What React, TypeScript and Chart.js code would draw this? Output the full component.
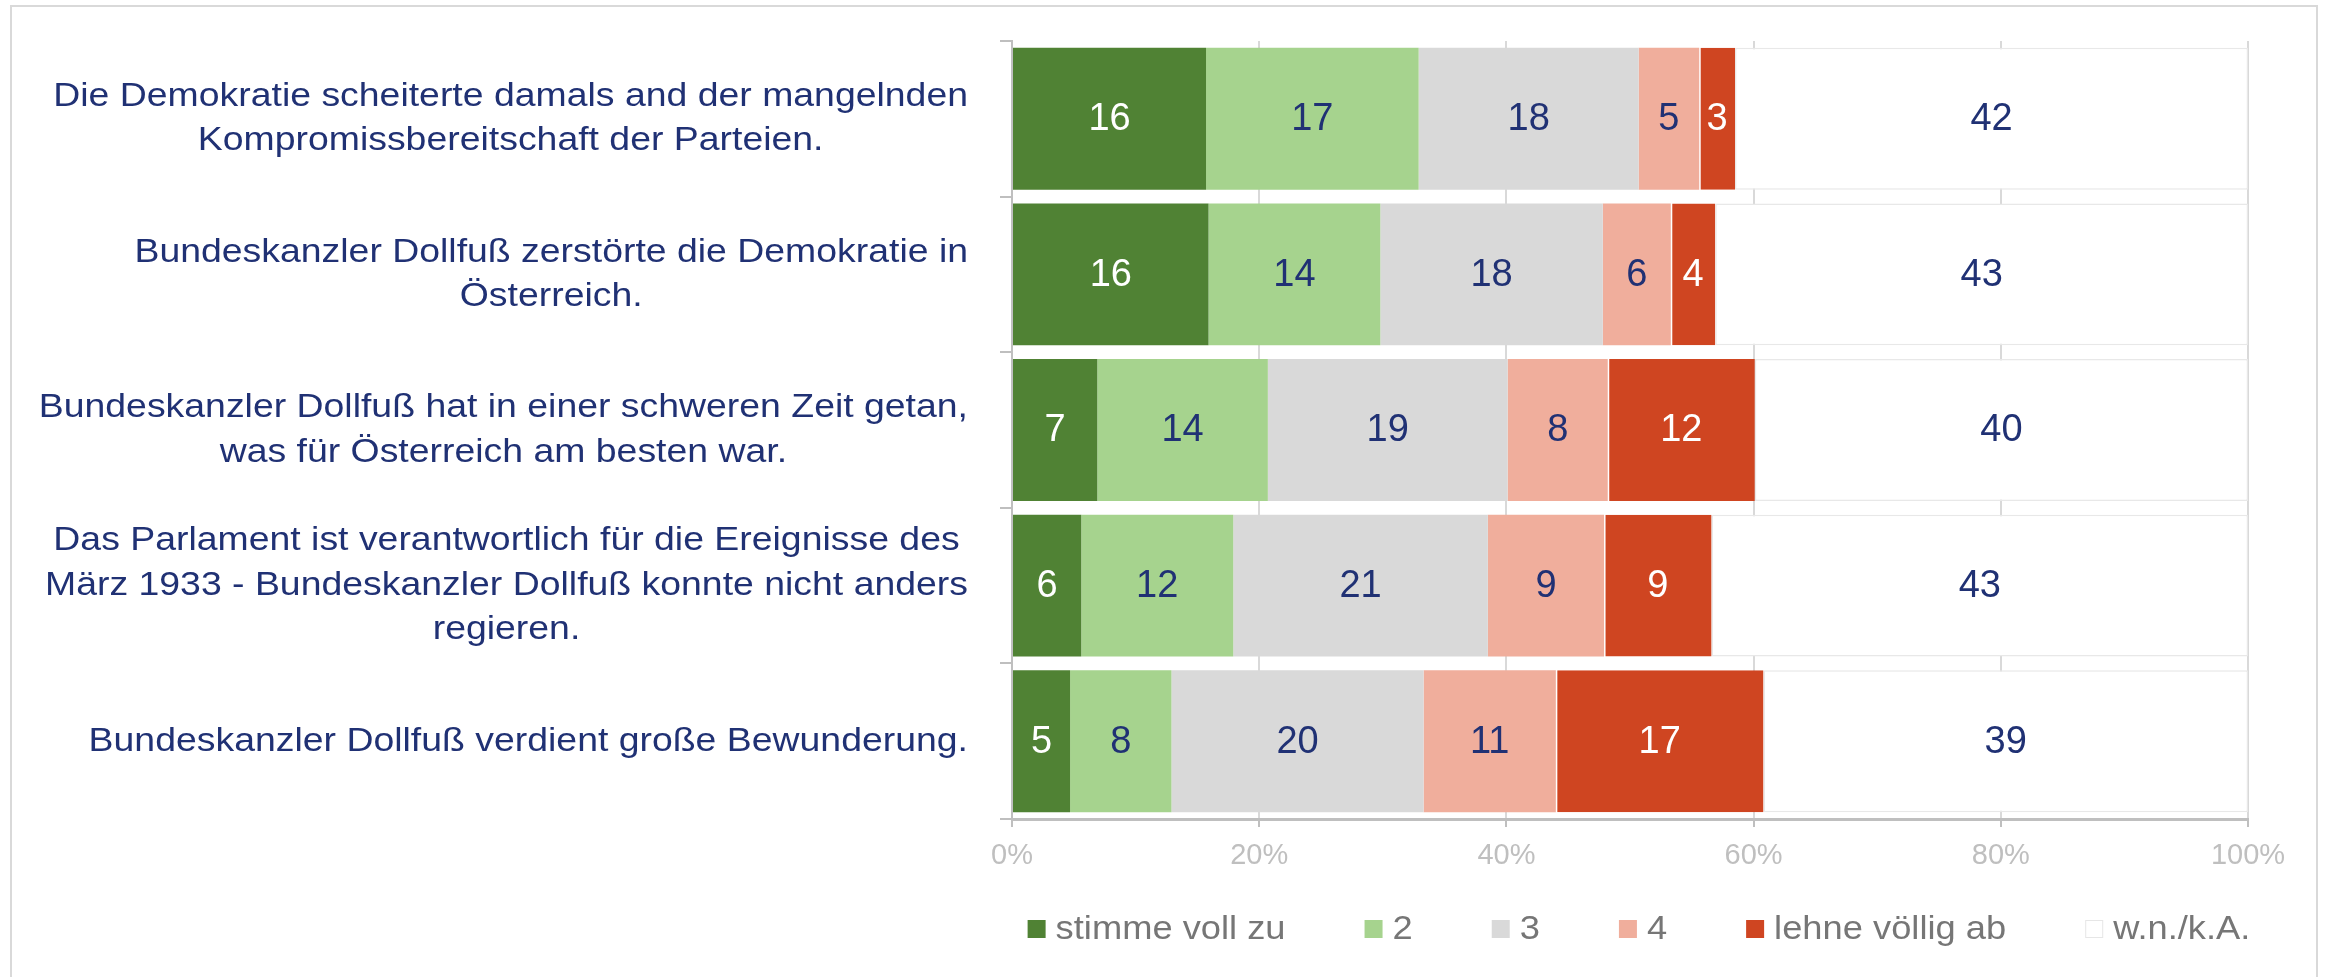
import React, { useEffect, useRef } from "react";
import { Chart, registerables } from "chart.js";

Chart.register(...registerables);

// ---------- data ----------
const categories: string[][] = [
  ["Die Demokratie scheiterte damals and der mangelnden", "Kompromissbereitschaft der Parteien."],
  ["Bundeskanzler Dollfuß zerstörte die Demokratie in", "Österreich."],
  ["Bundeskanzler Dollfuß hat in einer schweren Zeit getan,", "was für Österreich am besten war."],
  ["Das Parlament ist verantwortlich für die Ereignisse des", "März 1933 - Bundeskanzler Dollfuß konnte nicht anders", "regieren."],
  ["Bundeskanzler Dollfuß verdient große Bewunderung."],
];

const seriesLabels = ["stimme voll zu", "2", "3", "4", "lehne völlig ab", "w.n./k.A."];

const stimmeVollZu = [15.7, 15.9, 6.9, 5.6, 4.7];
const zwei = [17.2, 13.9, 13.8, 12.3, 8.2];
const drei = [17.8, 18.0, 19.4, 20.6, 20.4];
const vier = [4.9, 5.5, 8.1, 9.4, 10.7];
const lehneVoelligAb = [2.9, 3.6, 11.9, 8.7, 16.8];
const wnka = [41.5, 43.1, 39.9, 43.4, 39.2];

const xTickValues = [0, 20, 40, 60, 80, 100];

// ---------- styles ----------
const FONT = "'Liberation Sans', Arial, sans-serif";
const NAVY = "#203174";
const fillColors = ["#508234", "#A6D38E", "#D9D9D9", "#F0AE9C", "#CF4521", "#FFFFFF"];
const valueColors = ["#FFFFFF", NAVY, NAVY, NAVY, "#FFFFFF", NAVY];

const W = 2326;
const H = 977;

const framePlugin = {
  id: "frame",
  beforeDraw(chart: any) {
    const ctx = chart.ctx;
    ctx.save();
    ctx.fillStyle = "#FFFFFF";
    ctx.fillRect(0, 0, chart.width, chart.height);
    ctx.strokeStyle = "#D9D9D9";
    ctx.lineWidth = 2;
    ctx.strokeRect(11, 6, 2306, chart.height + 20);
    ctx.restore();
  },
};

const valueLabelPlugin = {
  id: "valueLabels",
  afterDatasetsDraw(chart: any) {
    const ctx = chart.ctx;
    ctx.save();
    ctx.font = `38px ${FONT}`;
    ctx.textAlign = "center";
    ctx.textBaseline = "middle";
    chart.data.datasets.forEach((ds: any, di: number) => {
      const meta = chart.getDatasetMeta(di);
      meta.data.forEach((bar: any, i: number) => {
        const v = ds.data[i];
        const p = bar.getProps(["x", "y", "base"], true);
        const right = Math.min(p.x, chart.chartArea.right);
        const cx = (right + p.base) / 2;
        ctx.fillStyle = valueColors[di];
        ctx.fillText(String(Math.round(v)), cx, p.y + 1);
      });
    });
    ctx.restore();
  },
};

const categoryLabelPlugin = {
  id: "categoryLabels",
  afterDraw(chart: any) {
    const ctx = chart.ctx;
    const yScale = chart.scales.y;
    const stretch = 1.1;
    const lineH = 44.5;
    const rightEdge = chart.chartArea.left - 44;
    ctx.save();
    ctx.font = `34px ${FONT}`;
    ctx.fillStyle = NAVY;
    ctx.textAlign = "center";
    ctx.textBaseline = "middle";
    categories.forEach((lines, i) => {
      const cy = yScale.getPixelForValue(i);
      const maxW = Math.max(...lines.map((l) => ctx.measureText(l).width)) * stretch;
      const cx = rightEdge - maxW / 2;
      lines.forEach((l, j) => {
        const ly = cy + (j - (lines.length - 1) / 2) * lineH;
        ctx.save();
        ctx.translate(cx, ly);
        ctx.scale(stretch, 1);
        ctx.fillText(l, 0, 0);
        ctx.restore();
      });
    });
    ctx.restore();
  },
};

const legendPlugin = {
  id: "customLegend",
  afterDraw(chart: any) {
    const ctx = chart.ctx;
    const stretch = 1.1;
    const box = 18;
    const boxGap = 10;
    const itemGap = 79;
    const cy = 929;
    ctx.save();
    ctx.font = `33px ${FONT}`;
    ctx.textBaseline = "middle";
    ctx.textAlign = "left";
    const items = chart.data.datasets.map((ds: any) => ({
      text: ds.label,
      color: ds.backgroundColor,
      w: ctx.measureText(ds.label).width * stretch,
    }));
    const total =
      items.reduce((s: number, it: any) => s + box + boxGap + it.w, 0) + itemGap * (items.length - 1);
    const center = (chart.chartArea.left + chart.chartArea.right) / 2 + 9;
    let x = center - total / 2;
    items.forEach((it: any) => {
      ctx.fillStyle = it.color;
      ctx.fillRect(x, cy - box / 2, box, box);
      if (it.color === "#FFFFFF") {
        ctx.strokeStyle = "#E6E6E6";
        ctx.lineWidth = 1;
        ctx.strokeRect(x + 0.5, cy - box / 2 + 0.5, box - 1, box - 1);
      }
      ctx.fillStyle = "#767676";
      ctx.save();
      ctx.translate(x + box + boxGap, cy + 1);
      ctx.scale(stretch, 1);
      ctx.fillText(it.text, 0, 0);
      ctx.restore();
      x += box + boxGap + it.w + itemGap;
    });
    ctx.restore();
  },
};

export default function App() {
  const canvasRef = useRef<HTMLCanvasElement | null>(null);

  useEffect(() => {
    const canvas = canvasRef.current;
    if (!canvas) return;
    const seriesData = [stimmeVollZu, zwei, drei, vier, lehneVoelligAb, wnka];
    const datasets = seriesData.map((data, i) => {
      const isWhite = i === 5;
      const isRed = i === 4;
      return {
        label: seriesLabels[i],
        data,
        backgroundColor: fillColors[i],
        borderColor: isWhite ? "#E8E8E8" : "#FFFFFF",
        borderWidth: isWhite ? 1.5 : isRed ? { left: 1.5, right: 0, top: 0, bottom: 0 } : 0,
        borderSkipped: false as const,
        barPercentage: 0.912,
        categoryPercentage: 1.0,
      };
    });

    const chart = new Chart(canvas, {
      type: "bar",
      data: {
        labels: categories.map((c) => c.join(" ")),
        datasets,
      },
      options: {
        indexAxis: "y",
        responsive: false,
        animation: false,
        devicePixelRatio: 1,
        layout: { padding: { left: 0, top: 41, right: 78, bottom: 0 } },
        plugins: {
          legend: { display: false },
          tooltip: { enabled: false },
          title: { display: false },
        },
        scales: {
          x: {
            stacked: true,
            min: 0,
            max: 100,
            afterBuildTicks: (scale: any) => {
              scale.ticks = xTickValues.map((v) => ({ value: v }));
            },
            afterFit: (scale: any) => {
              scale.height = H - 819;
            },
            ticks: {
              callback: (v: any) => `${v}%`,
              color: "#BFBFBF",
              font: { family: FONT, size: 29 },
              padding: 12,
              maxRotation: 0,
            },
            grid: {
              color: "#D9D9D9",
              lineWidth: 2,
              drawTicks: true,
              tickLength: 8,
              tickColor: "#BFBFBF",
              tickWidth: 2,
            },
            border: { display: true, color: "#BFBFBF", width: 3 },
          },
          y: {
            stacked: true,
            afterFit: (scale: any) => {
              scale.width = 1012;
            },
            ticks: { display: false },
            grid: {
              display: true,
              drawOnChartArea: false,
              drawTicks: true,
              tickLength: 12,
              color: "#BFBFBF",
              lineWidth: 2,
            },
            border: { display: true, color: "#BFBFBF", width: 2 },
          },
        },
      } as any,
      plugins: [framePlugin, valueLabelPlugin, categoryLabelPlugin, legendPlugin],
    });

    return () => chart.destroy();
  }, []);

  return (
    <div style={{ position: "fixed", left: 0, top: 0, width: W, height: H, background: "#FFFFFF" }}>
      <canvas ref={canvasRef} width={W} height={H} style={{ width: W, height: H, display: "block" }} />
    </div>
  );
}
